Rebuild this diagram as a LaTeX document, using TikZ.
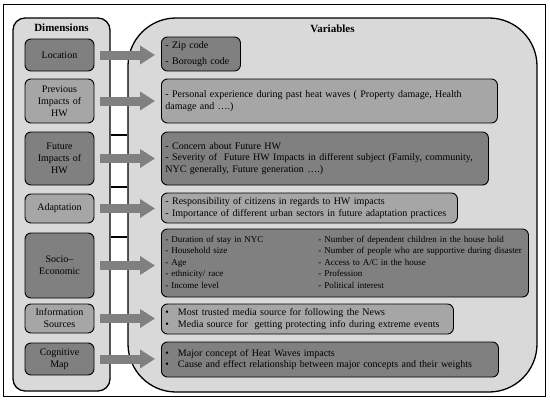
\documentclass[tikz,border=0pt]{standalone}
\usepackage{fontspec}
\setmainfont{Liberation Serif}
\usetikzlibrary{arrows.meta}

\begin{document}
\begin{tikzpicture}
		[x=1pt, y=-1pt,
		panel/.style ={rectangle, draw=black, line width=1.3pt, fill=black!15},
		dim/.style ={rectangle, draw=black, line width=0.9pt, rounded corners=6pt, minimum width=69pt, text width=66pt, inner xsep=1.5pt, align=center, font=\fontsize{10}{12}\selectfont},
		dark/.style ={fill=black!50},
		light/.style ={fill=black!35},
		var/.style ={rectangle, draw=black, line width=0.9pt, rounded corners=6pt, anchor=west, align=left, inner xsep=4pt, font=\fontsize{10}{11.5}\selectfont},
		title/.style ={font=\fontsize{11}{12}\selectfont\bfseries},
		line/.style ={draw=black!50, line width=9pt, -{Triangle[length=15pt,width=18pt]}, shorten <=6pt, shorten >=6pt},
		]
		\useasboundingbox (0,0) rectangle (550,402);
		\draw[line width=1pt] (3,4) rectangle (545,396);

		\draw (61.5,204.5) node[panel, rounded corners=12pt, minimum width=97pt, minimum height=373pt] (dims) {};
		\draw (332.5,205) node[panel, rounded corners=48pt, minimum width=409pt, minimum height=374pt] (vars) {};
		\draw (dims.north) ++(0,10) node[title] (tdims) {Dimensions};
		\draw (vars.north) ++(0,11) node[title] (tvars) {Variables};

		\foreach \y in {135,187,237}
		\draw[line width=1.3pt] (dims.east |- 0,\y) -- (vars.west |- 0,\y);

		\draw (59.5,55) node[dim, dark, minimum height=32pt] (loc) {Location};
		\draw (59.5,101) node[dim, light, minimum height=44pt] (prev) {Previous\\Impacts of\\HW};
		\draw (59.5,158.5) node[dim, dark, minimum height=53pt] (fut) {Future\\Impacts of\\HW};
		\draw (59.5,208.5) node[dim, light, minimum height=29pt] (adapt) {Adaptation};
		\draw (59.5,265.5) node[dim, dark, minimum height=65pt] (socio) {Socio–\\Economic};
		\draw (59.5,318.5) node[dim, light, minimum height=29pt] (info) {Information\\Sources};
		\draw (59.5,359) node[dim, dark, minimum height=32pt] (cog) {Cognitive\\Map};

		\draw (161,54) node[var, dark, text width=71pt, minimum height=34pt] (zip) {- Zip code\\[4pt]- Borough code};
		\draw (161,101) node[var, light, text width=328pt, minimum height=44pt] (vprev) {- Personal experience during past heat waves ( Property damage, Health\\damage and ….)};
		\draw (161,158.5) node[var, dark, text width=319pt, minimum height=53pt] (vfut) {- Concern about Future HW\\- Severity of~ Future HW Impacts in different subject (Family, community,\\NYC generally, Future generation ….)};
		\draw (161,208) node[var, light, text width=288pt, minimum height=30pt] (vadapt) {- Responsibility of citizens in regards to HW impacts\\- Importance of different urban sectors in future adaptation practices};
		\draw (161,263) node[var, dark, text width=359pt, minimum height=68pt, font=\fontsize{9}{11.5}\selectfont] (vsocio) {\begin{tabular}{@{}p{153pt}@{}l@{}}
			- Duration of stay in NYC & - Number of dependent children in the house hold\\
			- Household size & - Number of people who are supportive during disaster\\
			- Age & - Access to A/C in the house\\
			- ethnicity/ race & - Profession\\
			- Income level & - Political interest
		\end{tabular}};
		\draw (161,319) node[var, light, text width=284pt, minimum height=30pt] (vinfo) {\begin{tabular}{@{}l@{\hspace{9pt}}l@{}}
			\textbullet & Most trusted media source for following the News\\
			\textbullet & Media source for~ getting protecting info during extreme events
		\end{tabular}};
		\draw (161,359.5) node[var, dark, text width=329pt, minimum height=35pt] (vcog) {\begin{tabular}{@{}l@{\hspace{9pt}}l@{}}
			\textbullet & Major concept of Heat Waves impacts\\
			\textbullet & Cause and effect relationship between major concepts and their weights
		\end{tabular}};

		\path[line] (loc.east) -- (loc.east -| zip.west);
		\path[line] (prev.east) -- (prev.east -| vprev.west);
		\path[line] (fut.east) -- (fut.east -| vfut.west);
		\path[line] (adapt.east) -- (adapt.east -| vadapt.west);
		\path[line] (socio.east) -- (socio.east -| vsocio.west);
		\path[line] (info.east) -- (info.east -| vinfo.west);
		\path[line] (cog.east) -- (cog.east -| vcog.west);
	\end{tikzpicture}
\end{document}
